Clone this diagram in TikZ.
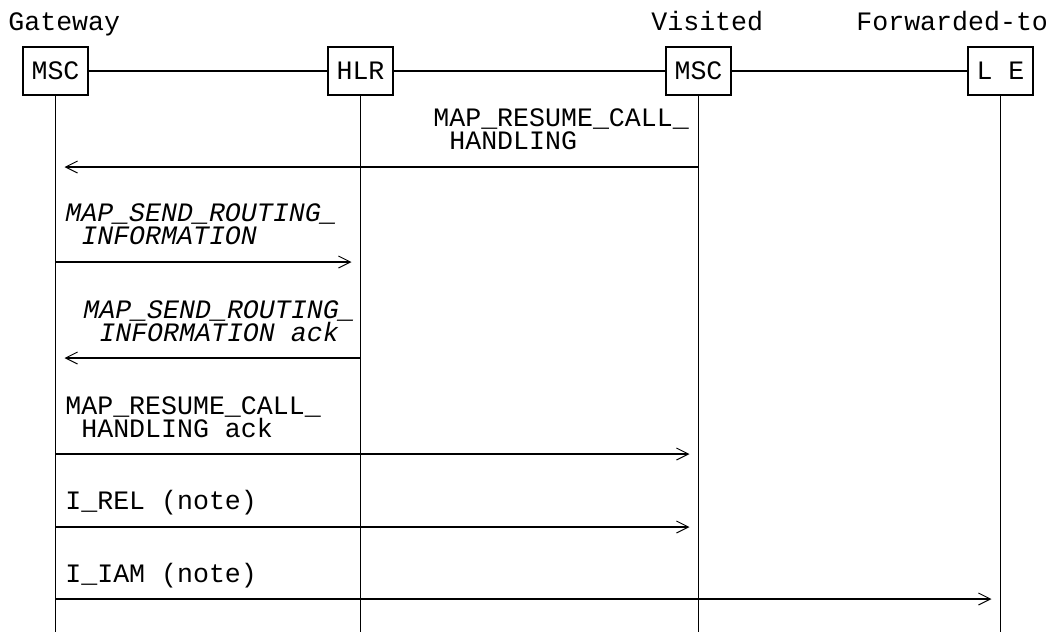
\documentclass[tikz,border=0pt]{standalone}
\usepackage{fontspec}
\setmainfont{Liberation Mono}
\usetikzlibrary{arrows.meta}

\begin{document}
\begin{tikzpicture}[x=0.5pt, y=-0.5pt,
    ent/.style={draw, line width=1.1pt, minimum width=32.5pt, minimum height=24pt, inner sep=0pt, font=\fontsize{13.3}{11.75}\selectfont},
    hdr/.style={anchor=base west, inner sep=0pt, font=\fontsize{13.3}{11.75}\selectfont},
    msg/.style={anchor=south west, inner sep=0pt, text depth=0pt, align=left, font=\fontsize{13.3}{11.75}\selectfont},
    life/.style={line width=0.6pt},
    sig/.style={line width=1pt, -{Straight Barb[length=6pt,width=6pt,line width=0.5pt]}, shorten >=4.5pt}
]
\useasboundingbox (0,0) rectangle (1051,632);

\node[hdr] (gw) at (8,30) {Gateway};
\node[hdr] (vis) at (651,30) {Visited};
\node[hdr] (fwd) at (856,30) {Forwarded-to};

\node[ent] (gmsc) at (55.5,71) {MSC};
\node[ent] (hlr) at (360.5,71) {HLR};
\node[ent] (vmsc) at (698.5,71) {MSC};
\node[ent] (le) at (1000.5,71) {L E};

\draw[line width=1pt] (gmsc) -- (hlr);
\draw[line width=1pt] (hlr) -- (vmsc);
\draw[line width=1pt] (vmsc) -- (le);

% lifelines
\coordinate (bot) at (0,632);
\draw[life] (gmsc.south) -- (gmsc.south |- bot);
\draw[life] (hlr.south) -- (hlr.south |- bot);
\draw[life] (vmsc.south) -- (vmsc.south |- bot);
\draw[life] (le.south) -- (le.south |- bot);

% message rows
\coordinate (r1) at (0,167);
\coordinate (r2) at (0,262);
\coordinate (r3) at (0,358);
\coordinate (r4) at (0,454);
\coordinate (r5) at (0,527);
\coordinate (r6) at (0,599);

\node[msg] (m1) at (433,150) {MAP\_RESUME\_CALL\_\\\hspace*{0.6em}HANDLING};
\draw[sig] (vmsc.south |- r1) -- (gmsc.south |- r1);

\node[msg, font=\fontsize{13.3}{11.75}\selectfont\itshape] (m2) at (65,245) {MAP\_SEND\_ROUTING\_\\\hspace*{0.6em}INFORMATION};
\draw[sig] (gmsc.south |- r2) -- (hlr.south |- r2);

\node[msg, font=\fontsize{13.3}{11.75}\selectfont\itshape] (m3) at (83,342) {MAP\_SEND\_ROUTING\_\\\hspace*{0.6em}INFORMATION ack};
\draw[sig] (hlr.south |- r3) -- (gmsc.south |- r3);

\node[msg] (m4) at (65,438) {MAP\_RESUME\_CALL\_\\\hspace*{0.6em}HANDLING ack};
\draw[sig] (gmsc.south |- r4) -- (vmsc.south |- r4);

\node[msg] (m5) at (65,510) {I\_REL (note)};
\draw[sig] (gmsc.south |- r5) -- (vmsc.south |- r5);

\node[msg] (m6) at (65,583) {I\_IAM (note)};
\draw[sig] (gmsc.south |- r6) -- (le.south |- r6);
\end{tikzpicture}
\end{document}
